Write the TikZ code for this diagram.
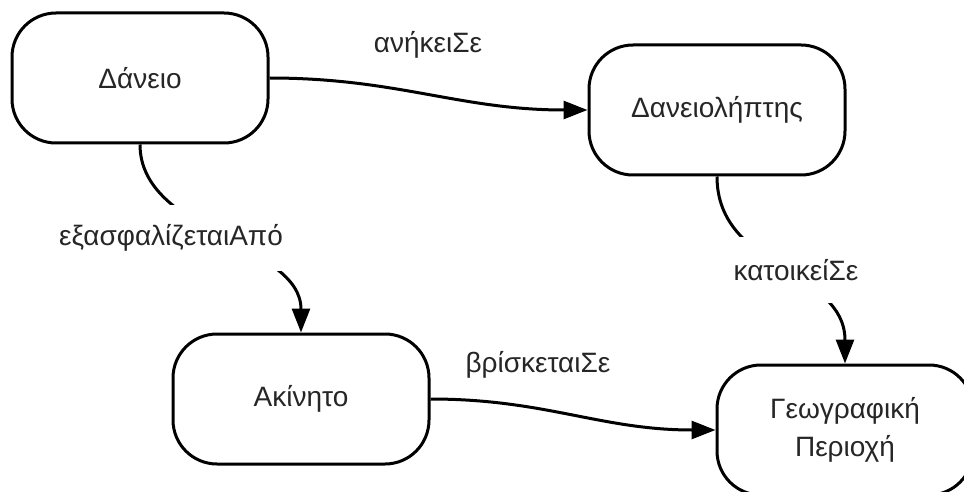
\documentclass[tikz,border=0pt]{standalone}
\usepackage{fontspec}
\setmainfont{Liberation Sans}
\usetikzlibrary{arrows.meta}
\begin{document}
\begin{tikzpicture}[x=0.5pt,y=-0.5pt,
  entity/.style={draw=black, line width=1.5pt, rounded corners=22pt,
    minimum width=128pt, minimum height=65pt, inner sep=0pt,
    align=center, fill=white, text=black!85,
    font=\fontsize{14}{19}\selectfont},
  rel/.style={line width=1.5pt, -{Triangle[length=12pt,width=9pt]}},
  rellabel/.style={inner sep=0pt, text=black!85,
    font=\fontsize{14}{16}\selectfont},
  gaplabel/.style={rellabel, fill=white, minimum height=33pt},
]
\useasboundingbox (0,0) rectangle (964,492);
\clip (0,0) rectangle (964,492);

% entities
\node[entity] (loan)     at (140,78)  {Δάνειο};
\node[entity] (borrower) at (717,110) {Δανειολήπτης};
\node[entity] (estate)   at (301,399) {Ακίνητο};
\node[entity] (region)   at (845,430) {Γεωγραφική\\Περιοχή};

% relations
\draw[rel] (loan.east) .. controls +(128,0) and +(-128,0) .. (borrower.west);
\draw[rel] (estate.east) .. controls +(115,0) and +(-115,0) .. (region.west);
\draw[rel] (loan.south) .. controls +(0,89) and +(0,-89) .. (estate.north);
\draw[rel] (borrower.south) .. controls +(0,94) and +(0,-94) .. (region.north);

% relation names
\node[rellabel] (l1) at (428,45)  {ανήκειΣε};
\node[rellabel] (l2) at (538,365) {βρίσκεταιΣε};
\node[gaplabel] (l3) at (171,238) {εξασφαλίζεταιΑπό};
\node[gaplabel] (l4) at (796,270) {κατοικείΣε};
\end{tikzpicture}
\end{document}
